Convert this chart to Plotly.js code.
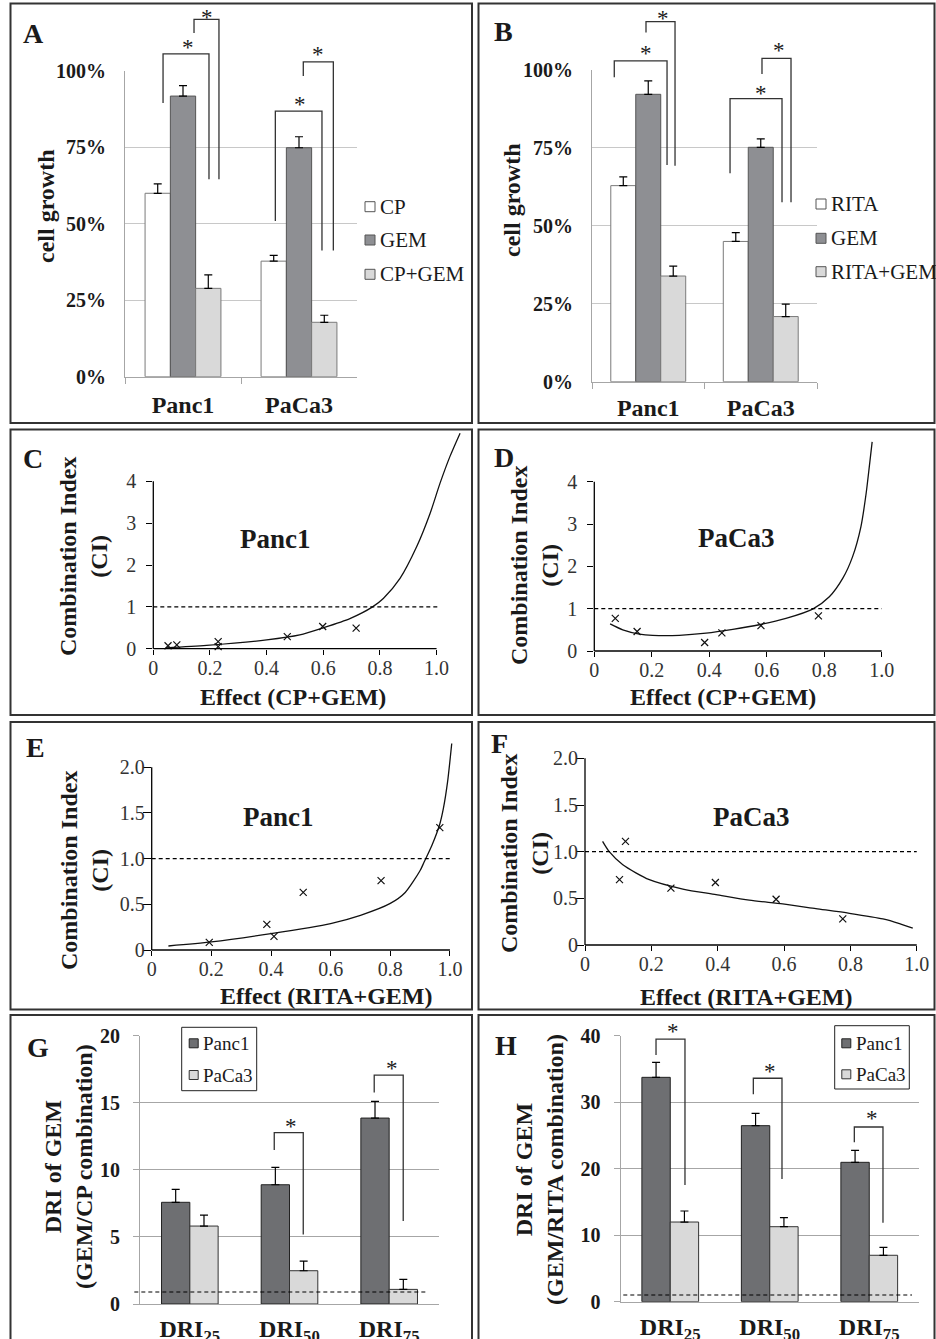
<!DOCTYPE html>
<html><head><meta charset="utf-8">
<script src="https://cdn.plot.ly/plotly-3.0.1.min.js"></script>
<style>html,body{margin:0;padding:0;background:#fff}#chart{width:936px;height:1339px}</style>
</head><body><div id="chart"></div>
<script>
// ---------------- DATA ----------------
const cellLines = ['Panc1', 'PaCa3'];
// Panel A: cell growth (%)
const cpGrowth = [60.0, 37.8];
const gemGrowthA = [91.8, 74.9];
const cpGemGrowth = [28.9, 17.8];
const cpErr = [3.1, 1.9];
const gemErrA = [3.4, 3.6];
const cpGemErr = [4.4, 2.3];
// Panel B: cell growth (%)
const ritaGrowth = [62.9, 45.0];
const gemGrowthB = [92.2, 75.2];
const ritaGemGrowth = [33.9, 20.9];
const ritaErr = [2.8, 2.8];
const gemErrB = [4.3, 2.7];
const ritaGemErr = [3.2, 4.0];
// Panel C: CI vs effect, Panc1 (CP+GEM)
const cEffect = [0.052, 0.083, 0.229, 0.229, 0.473, 0.598, 0.716];
const cCI = [0.07, 0.09, 0.17, 0.05, 0.29, 0.53, 0.49];
const cCurveFa = [0.044, 0.188, 0.400, 0.517, 0.600, 0.694, 0.774, 0.812, 0.871, 0.930, 0.977, 1.012, 1.047, 1.083];
const cCurveCI = [0.02, 0.08, 0.21, 0.33, 0.50, 0.72, 1.00, 1.20, 1.68, 2.44, 3.23, 3.95, 4.59, 5.15];
// Panel D: PaCa3 (CP+GEM)
const dEffect = [0.073, 0.149, 0.384, 0.444, 0.580, 0.780];
const dCI = [0.77, 0.46, 0.20, 0.43, 0.60, 0.83];
const dCurveFa = [0.055, 0.099, 0.157, 0.203, 0.296, 0.389, 0.482, 0.574, 0.667, 0.760, 0.818, 0.865, 0.899, 0.928, 0.946, 0.957, 0.967];
const dCurveCI = [0.64, 0.50, 0.40, 0.37, 0.37, 0.42, 0.51, 0.62, 0.77, 0.99, 1.28, 1.72, 2.23, 2.94, 3.72, 4.35, 4.94];
// Panel E: Panc1 (RITA+GEM)
const eEffect = [0.193, 0.386, 0.410, 0.508, 0.769, 0.966];
const eCI = [0.084, 0.28, 0.15, 0.63, 0.76, 1.34];
const eCurveFa = [0.056, 0.2, 0.4, 0.6, 0.7, 0.8, 0.85, 0.9, 0.913, 0.94, 0.966, 0.978, 0.992, 1.006];
const eCurveCI = [0.044, 0.088, 0.18, 0.29, 0.38, 0.51, 0.63, 0.87, 0.96, 1.15, 1.38, 1.55, 1.84, 2.26];
// Panel F: PaCa3 (RITA+GEM)
const fEffect = [0.104, 0.122, 0.259, 0.393, 0.576, 0.777];
const fCI = [0.70, 1.11, 0.61, 0.67, 0.49, 0.28];
const fCurveFa = [0.053, 0.073, 0.114, 0.194, 0.295, 0.395, 0.495, 0.596, 0.696, 0.797, 0.898, 0.948, 0.988];
const fCurveCI = [1.11, 1.00, 0.86, 0.70, 0.60, 0.54, 0.48, 0.44, 0.39, 0.34, 0.28, 0.23, 0.18];
// Panels G/H: DRI of GEM
const driCats = ['DRI25', 'DRI50', 'DRI75'];
const driTickText = ['DRI<sub>25</sub>', 'DRI<sub>50</sub>', 'DRI<sub>75</sub>'];
const gPanc1 = [7.58, 8.89, 13.86];
const gPaCa3 = [5.81, 2.48, 1.09];
const gPanc1Err = [0.97, 1.30, 1.24];
const gPaCa3Err = [0.82, 0.72, 0.75];
const hPanc1 = [33.74, 26.47, 20.96];
const hPaCa3 = [11.98, 11.28, 6.98];
const hPanc1Err = [2.26, 1.86, 1.81];
const hPaCa3Err = [1.66, 1.35, 1.20];
const gRefLine = 0.9;
const hRefLine = 1;
const ciRefLine = 1;
// significance brackets: [xLeft, xRight, yTop, yLeftEnd, yRightEnd, starX, starY] (data units)
const bracketsA = [[-0.172, 0.224, 105.6, 89.5, 64.6, 0.043, 109.2], [0.095, 0.310, 116.9, 112.4, 64.6, 0.207, 119.0],
                   [0.796, 1.198, 86.9, 50.9, 41.3, 1.009, 90.8], [1.037, 1.296, 103.0, 98.4, 41.3, 1.166, 107.0]];
const bracketsB = [[-0.302, 0.167, 102.9, 97.7, 69.5, -0.02, 107.0], [-0.02, 0.238, 115.5, 112.0, 69.3, 0.128, 118.2],
                   [0.727, 1.189, 90.8, 66.9, 57.6, 1.002, 94.1], [1.011, 1.269, 103.7, 98.7, 57.6, 1.165, 108.0]];
const bracketsG = [[0.847, 1.138, 12.77, 11.48, 5.19, 1.015, 13.58], [1.85, 2.141, 17.06, 15.77, 6.18, 2.024, 17.94]];
const bracketsH = [[-0.143, 0.148, 39.5, 37.1, 17.55, 0.031, 41.35], [0.835, 1.123, 33.6, 31.2, 18.45, 1.003, 35.3],
                   [1.85, 2.138, 26.27, 23.97, 11.88, 2.025, 28.33]];

// ---------------- LAYOUT HELPERS ----------------
const W = 936, H = 1339;
const X = v => v / W, Y = v => 1 - v / H;
const FONT = 'Liberation Serif, "Times New Roman", serif';
const TXT = '#1a1a1a';
// pixel calibration per subplot: x:[px0,px1,r0,r1], y:[pyBottom,pyTop,r0,r1]
const cal = {
  A: {n: '', x: [125, 357, -0.5, 1.5], y: [376.7, 71, 0, 100]},
  B: {n: '2', x: [592, 817, -0.5, 1.5], y: [381.7, 70, 0, 100]},
  C: {n: '3', x: [153.3, 464.9, 0, 1.1], y: [648.7, 431.1, 0, 5.2]},
  D: {n: '4', x: [594.3, 896.0, 0, 1.05], y: [651, 435.1, 0, 5.1]},
  E: {n: '5', x: [151.7, 458.9, 0, 1.03], y: [950, 739.9, 0, 2.3]},
  F: {n: '6', x: [585, 926.7, 0, 1.03], y: [945, 753.7, 0, 2.05]},
  G: {n: '7', x: [140, 439, -0.5, 2.5], y: [1304, 1035.7, 0, 20]},
  H: {n: '8', x: [620.5, 919, -0.5, 2.5], y: [1301.7, 1035.7, 0, 40]}
};
function toP(c, xv, yv) {
  return [X(c.x[0] + (xv - c.x[2]) / (c.x[3] - c.x[2]) * (c.x[1] - c.x[0])),
          Y(c.y[0] + (yv - c.y[2]) / (c.y[3] - c.y[2]) * (c.y[1] - c.y[0]))];
}
function xd(c) { return [X(c.x[0]), X(c.x[1])]; }
function yd(c) { return [Y(c.y[0]), Y(c.y[1])]; }

const traces = [];
const shapes = [];
const annotations = [];

function bar(c, x, y, err, w, off, fill, line) {
  traces.push({type: 'bar', x: x, y: y, xaxis: 'x' + c.n, yaxis: 'y' + c.n, width: w, offset: off,
    marker: {color: fill, line: {color: line, width: 1}}, showlegend: false, hoverinfo: 'skip',
    error_y: {type: 'data', symmetric: false, array: err, arrayminus: err.map(() => 0), color: '#000', thickness: 1.2, width: 4}});
}
function brackets(c, list) {
  list.forEach(b => {
    const p1 = toP(c, b[0], b[3]), p2 = toP(c, b[0], b[2]), p3 = toP(c, b[1], b[2]), p4 = toP(c, b[1], b[4]);
    shapes.push({type: 'path', xref: 'paper', yref: 'paper',
      path: `M${p1[0]},${p1[1]} L${p2[0]},${p2[1]} L${p3[0]},${p3[1]} L${p4[0]},${p4[1]}`,
      line: {color: '#333', width: 1.3}});
    const s = toP(c, b[5], b[6]);
    annotations.push({xref: 'paper', yref: 'paper', x: s[0], y: s[1], text: '*', showarrow: false,
      xanchor: 'center', yanchor: 'middle', yshift: -5, font: {family: FONT, size: 23, color: TXT}});
  });
}
function txt(xp, yp, text, size, opts) {
  annotations.push(Object.assign({xref: 'paper', yref: 'paper', x: X(xp), y: Y(yp), text: text, showarrow: false,
    xanchor: 'center', yanchor: 'middle', font: {family: FONT, size: size, color: TXT}}, opts || {}));
}
function bold(xp, yp, text, size, opts) {
  txt(xp, yp, text, size, Object.assign({font: {family: FONT, size: size, color: TXT, weight: 'bold'}}, opts || {}));
}
function rect(x0, y0, x1, y1, fill, line, lw) {
  shapes.push({type: 'rect', xref: 'paper', yref: 'paper', x0: X(x0), x1: X(x1), y0: Y(y0), y1: Y(y1),
    fillcolor: fill, line: {color: line, width: lw}});
}
function dline(c, xa, xb, yv, dash, width) {
  const a = toP(c, xa, yv), b = toP(c, xb, yv);
  shapes.push({type: 'line', xref: 'paper', yref: 'paper', x0: a[0], x1: b[0], y0: a[1], y1: b[1],
    line: {color: '#000', width: width || 1.2, dash: dash}});
}
function vline(c, xv, ya, yb) {
  const a = toP(c, xv, ya), b = toP(c, xv, yb);
  shapes.push({type: 'line', xref: 'paper', yref: 'paper', x0: a[0], x1: b[0], y0: a[1], y1: b[1],
    line: {color: '#000', width: 1.3}});
}

// ---------------- PANEL BORDERS ----------------
[[10.5, 3.5, 472, 423], [478.5, 3.5, 934.5, 423],
 [10.5, 429.5, 472, 715], [478.5, 429.5, 934.5, 715],
 [10.5, 722, 472, 1009.5], [478.5, 722, 934.5, 1009.5],
 [10.5, 1015, 472, 1345], [478.5, 1015, 934.5, 1345]].forEach(r => rect(r[0], r[1], r[2], r[3], 'rgba(0,0,0,0)', '#333', 2));

// ---------------- BAR PANELS A, B ----------------
const WHITE = '#ffffff', MID = '#8e8f93', LIGHT = '#d9d9d9', DARK = '#6e6f72';
const wA = 0.218, wB = 0.222;
bar(cal.A, cellLines, cpGrowth, cpErr, wA, -1.5 * wA, WHITE, '#7a7a7a');
bar(cal.A, cellLines, gemGrowthA, gemErrA, wA, -0.5 * wA, MID, '#555');
bar(cal.A, cellLines, cpGemGrowth, cpGemErr, wA, 0.5 * wA, LIGHT, '#7a7a7a');
bar(cal.B, cellLines, ritaGrowth, ritaErr, wB, -1.5 * wB, WHITE, '#7a7a7a');
bar(cal.B, cellLines, gemGrowthB, gemErrB, wB, -0.5 * wB, MID, '#555');
bar(cal.B, cellLines, ritaGemGrowth, ritaGemErr, wB, 0.5 * wB, LIGHT, '#7a7a7a');
brackets(cal.A, bracketsA);
brackets(cal.B, bracketsB);

// legends A & B (custom)
function legendItem(cx, cy, size, fill, line, label, fsize) {
  rect(cx - size / 2, cy - size / 2, cx + size / 2, cy + size / 2, fill, line, 1);
  txt(cx + size / 2 + 3, cy, label, fsize, {xanchor: 'left'});
}
legendItem(370, 206.7, 10, WHITE, '#555', 'CP', 21);
legendItem(370, 240, 10, MID, '#555', 'GEM', 21);
legendItem(370, 274.3, 10, LIGHT, '#555', 'CP+GEM', 21);
legendItem(821, 204, 10, WHITE, '#555', 'RITA', 21);
legendItem(821, 238.3, 10, MID, '#555', 'GEM', 21);
legendItem(821, 271.7, 10, LIGHT, '#555', 'RITA+GEM', 21);

// ---------------- CI PANELS C-F ----------------
function ciPanel(c, fa, ci, cfa, cci) {
  traces.push({type: 'scatter', mode: 'lines', x: cfa, y: cci, xaxis: 'x' + c.n, yaxis: 'y' + c.n,
    line: {color: '#111', width: 1.3, shape: 'spline', smoothing: 0.7}, showlegend: false, hoverinfo: 'skip'});
  traces.push({type: 'scatter', mode: 'markers', x: fa, y: ci, xaxis: 'x' + c.n, yaxis: 'y' + c.n, cliponaxis: false,
    marker: {symbol: 'x-thin', size: 7, color: '#111', line: {color: '#111', width: 1.2}}, showlegend: false, hoverinfo: 'skip'});
}
ciPanel(cal.C, cEffect, cCI, cCurveFa, cCurveCI);
ciPanel(cal.D, dEffect, dCI, dCurveFa, dCurveCI);
ciPanel(cal.E, eEffect, eCI, eCurveFa, eCurveCI);
ciPanel(cal.F, fEffect, fCI, fCurveFa, fCurveCI);
// axis lines
dline(cal.C, 0, 1.0, 0, 'solid', 1.3); vline(cal.C, 0, 0, 4);
dline(cal.D, 0, 1.0, 0, 'solid', 1.3); vline(cal.D, 0, 0, 4);
dline(cal.E, 0, 1.0, 0, 'solid', 1.3); vline(cal.E, 0, 0, 2);
dline(cal.F, 0, 1.0, 0, 'solid', 1.3); vline(cal.F, 0, 0, 2);
// CI = 1 reference
dline(cal.C, 0, 1.01, ciRefLine, '4px,3px');
dline(cal.D, 0, 1.0, ciRefLine, '4px,3px');
dline(cal.E, 0, 1.0, ciRefLine, '4px,3px');
dline(cal.F, 0, 1.0, ciRefLine, '4px,3px');

// ---------------- DRI PANELS G, H ----------------
const wG = 0.284, wH = 0.285;
bar(cal.G, driCats, gPanc1, gPanc1Err, wG, -wG, DARK, '#222');
bar(cal.G, driCats, gPaCa3, gPaCa3Err, wG, 0, LIGHT, '#333');
bar(cal.H, driCats, hPanc1, hPanc1Err, wH, -wH, DARK, '#222');
bar(cal.H, driCats, hPaCa3, hPaCa3Err, wH, 0, LIGHT, '#333');
dline(cal.G, -0.557, 2.392, gRefLine, '4px,3px', 1.1);
dline(cal.H, -0.472, 2.43, hRefLine, '4px,3px', 1.1);
brackets(cal.G, bracketsG);
brackets(cal.H, bracketsH);
rect(181.7, 1027.3, 256.7, 1090.7, '#fff', '#222', 1);
legendItem(193.7, 1043.3, 9, DARK, '#222', 'Panc1', 19);
legendItem(193.7, 1075, 9, LIGHT, '#333', 'PaCa3', 19);
rect(834.7, 1025.7, 909.3, 1089, '#fff', '#222', 1);
legendItem(846.3, 1043.3, 9, DARK, '#222', 'Panc1', 19);
legendItem(846.3, 1074.3, 9, LIGHT, '#333', 'PaCa3', 19);

// ---------------- TEXT ----------------
bold(33, 33, 'A', 28); bold(503, 32, 'B', 28);
bold(33, 458, 'C', 28); bold(504, 457, 'D', 28);
bold(35, 747, 'E', 28); bold(499, 743, 'F', 28);
bold(38, 1047, 'G', 28); bold(506, 1045, 'H', 28);
bold(46, 206, 'cell growth', 24, {textangle: -90});
bold(512, 200, 'cell growth', 24, {textangle: -90});
bold(83, 557, 'Combination Index<br>(CI)', 24, {textangle: -90});
bold(535, 566, 'Combination Index<br>(CI)', 24, {textangle: -90});
bold(84, 871, 'Combination Index<br>(CI)', 24, {textangle: -90});
bold(524, 854, 'Combination Index<br>(CI)', 24, {textangle: -90});
bold(68, 1167, 'DRI of GEM<br>(GEM/CP combination)', 24, {textangle: -90});
bold(539, 1170, 'DRI of GEM<br>(GEM/RITA combination)', 24, {textangle: -90});
bold(292.5, 697, 'Effect (CP+GEM)', 24);
bold(722.7, 697, 'Effect (CP+GEM)', 24);
bold(326.7, 996, 'Effect (RITA+GEM)', 24);
bold(746, 997, 'Effect (RITA+GEM)', 24);
bold(275, 539, 'Panc1', 27);
bold(736, 538, 'PaCa3', 27);
bold(278, 817, 'Panc1', 27);
bold(751, 817, 'PaCa3', 27);

// ---------------- AXES ----------------
const layout = {
  width: W, height: H, margin: {l: 0, r: 0, t: 0, b: 0}, paper_bgcolor: '#fff', plot_bgcolor: 'rgba(0,0,0,0)',
  barmode: 'overlay', showlegend: false, shapes: shapes, annotations: annotations,
  font: {family: FONT, color: TXT}
};
function barAxes(c, cats, ticktext, yvals, ytext, gridc, xticks, yticks, xstand, ystand) {
  layout['xaxis' + c.n] = {domain: xd(c), range: [c.x[2], c.x[3]], anchor: 'y' + c.n, type: 'category',
    tickvals: cats, ticktext: ticktext, showline: true, linecolor: '#a6a6a6', linewidth: 1,
    ticks: xticks ? 'outside' : '', tickson: 'boundaries', ticklen: 6, tickcolor: '#a6a6a6', showgrid: false,
    zeroline: false, fixedrange: true, ticklabelstandoff: xstand,
    tickfont: {family: FONT, size: 24, color: TXT, weight: 'bold'}};
  layout['yaxis' + c.n] = {domain: yd(c), range: [c.y[2], c.y[3]], anchor: 'x' + c.n, tickvals: yvals, ticktext: ytext,
    showline: true, linecolor: '#a6a6a6', linewidth: 1, showgrid: true, gridcolor: gridc, gridwidth: 1,
    ticks: yticks ? 'outside' : '', ticklen: 6, tickcolor: gridc, zeroline: false, fixedrange: true,
    ticklabelstandoff: ystand, tickfont: {family: FONT, size: 20, color: TXT, weight: 'bold'}};
}
barAxes(cal.A, cellLines, cellLines, [0, 25, 50, 75, 100], ['0%', '25%', '50%', '75%', '100%'], '#c8c8c8', true, false, 6, 14);
barAxes(cal.B, cellLines, cellLines, [0, 25, 50, 75, 100], ['0%', '25%', '50%', '75%', '100%'], '#c8c8c8', true, false, 4, 14);
barAxes(cal.G, driCats, driTickText, [0, 5, 10, 15, 20], ['0', '5', '10', '15', '20'], '#a6a6a6', false, true, 3, 9);
barAxes(cal.H, driCats, driTickText, [0, 10, 20, 30, 40], ['0', '10', '20', '30', '40'], '#a6a6a6', false, true, 3, 9);

function ciAxes(c, yvals, ytext, ylen, ystand) {
  layout['xaxis' + c.n] = {domain: xd(c), range: [c.x[2], c.x[3]], anchor: 'y' + c.n,
    tickvals: [0, 0.2, 0.4, 0.6, 0.8, 1.0], ticktext: ['0', '0.2', '0.4', '0.6', '0.8', '1.0'],
    showline: false, showgrid: false, zeroline: false, ticks: 'outside', ticklen: 5, tickcolor: '#000', tickwidth: 1,
    fixedrange: true, ticklabelstandoff: -4, tickfont: {family: FONT, size: 20, color: '#333'}};
  layout['yaxis' + c.n] = {domain: yd(c), range: [c.y[2], c.y[3]], anchor: 'x' + c.n, tickvals: yvals, ticktext: ytext,
    showline: false, showgrid: false, zeroline: false, ticks: 'outside', ticklen: ylen, tickcolor: '#000', tickwidth: 1,
    fixedrange: true, ticklabelstandoff: ystand, tickfont: {family: FONT, size: 20, color: '#333'}};
}
ciAxes(cal.C, [0, 1, 2, 3, 4], ['0', '1', '2', '3', '4'], 6, 6);
ciAxes(cal.D, [0, 1, 2, 3, 4], ['0', '1', '2', '3', '4'], 6, 6);
ciAxes(cal.E, [0, 0.5, 1, 1.5, 2], ['0', '0.5', '1.0', '1.5', '2.0'], 8, -6);
ciAxes(cal.F, [0, 0.5, 1, 1.5, 2], ['0', '0.5', '1.0', '1.5', '2.0'], 8, -6);

Plotly.newPlot('chart', traces, layout, {staticPlot: true, displayModeBar: false});
</script></body></html>
